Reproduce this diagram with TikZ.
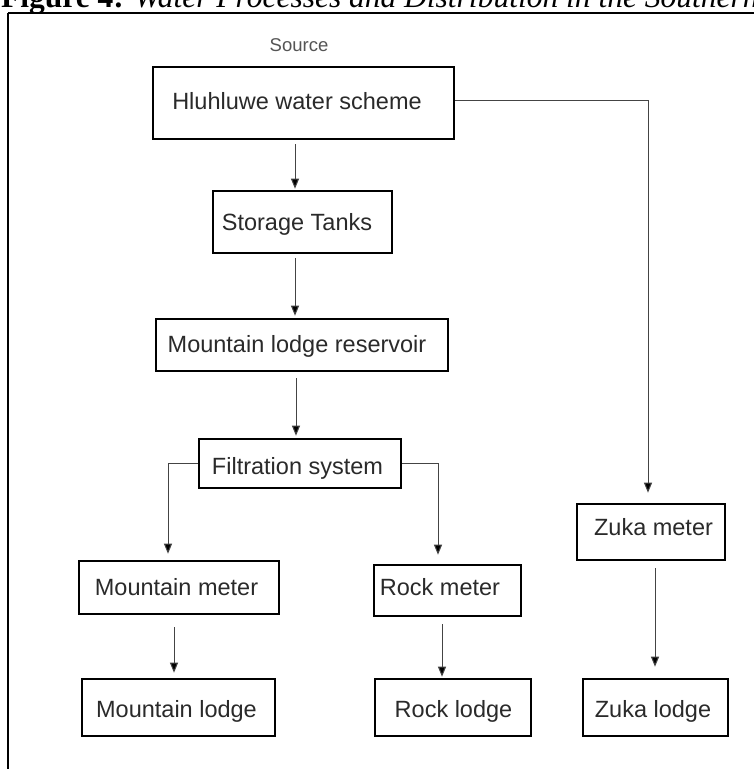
\documentclass[tikz,border=0pt]{standalone}
\usepackage{fontspec}
\setmainfont{Liberation Serif}
\newfontfamily\boxfont{Liberation Sans}
\usetikzlibrary{arrows.meta}
\definecolor{txtgray}{HTML}{2A2A2A}
\definecolor{linegray}{HTML}{444444}
\definecolor{srcgray}{HTML}{555555}
\tikzset{
  box/.style={draw=black, line width=2.6pt, fill=white, inner sep=0pt},
  txt/.style={font=\boxfont\fontsize{23.5}{26}\selectfont, text=txtgray, anchor=base, inner sep=0pt},
  arr/.style={draw=linegray, line width=1pt, -{Triangle[length=10pt,width=8pt,fill=black]}},
  frameline/.style={line width=2.2pt, draw=black}
}
\begin{document}
\begin{tikzpicture}[x=1pt,y=-1pt]
\useasboundingbox (0,0) rectangle (753,769);
\fill[white] (0,0) rectangle (753,769);
% caption (cut off at top)
\node[anchor=base west, inner sep=0pt, font=\fontsize{31.5}{33}\selectfont] (cap) at (1,7)
  {\textbf{Figure 4:} \textit{Water Processes and Distribution in the Southern}};
% frame
\draw[frameline] (8,13) -- (760,13);
\draw[frameline] (8,13) -- (8,780);
% source label
\node[anchor=base, inner sep=0pt, font=\boxfont\fontsize{18.5}{20}\selectfont, text=srcgray] (src) at (299,51) {Source};
% boxes
\node[box, minimum width=301pt, minimum height=72pt] (hl) at (303.5,103) {};
\node[txt] (hlT) at (297,109) {Hluhluwe water scheme};
\node[box, minimum width=179pt, minimum height=62pt] (st) at (302.5,222) {};
\node[txt] (stT) at (297,230) {Storage Tanks};
\node[box, minimum width=292pt, minimum height=52pt] (res) at (302,345) {};
\node[txt] (resT) at (297,352) {Mountain lodge reservoir};
\node[box, minimum width=202pt, minimum height=49pt] (filt) at (300,463.5) {};
\node[txt] (filtT) at (297.5,474) {Filtration system};
\node[box, minimum width=200pt, minimum height=53pt] (mm) at (179,587.5) {};
\node[txt] (mmT) at (176.5,595) {Mountain meter};
\node[box, minimum width=147pt, minimum height=51pt] (rm) at (447.5,590.5) {};
\node[txt] (rmT) at (440,595) {Rock meter};
\node[box, minimum width=148pt, minimum height=56pt] (zm) at (651,532) {};
\node[txt] (zmT) at (653.5,535) {Zuka meter};
\node[box, minimum width=193pt, minimum height=57pt] (ml) at (178.5,707.5) {};
\node[txt] (mlT) at (176.5,717) {Mountain lodge};
\node[box, minimum width=156pt, minimum height=57pt] (rl) at (453,707.5) {};
\node[txt] (rlT) at (453.5,717) {Rock lodge};
\node[box, minimum width=145pt, minimum height=57pt] (zl) at (655.5,707.5) {};
\node[txt] (zlT) at (653,717) {Zuka lodge};
% connectors
\draw[arr, shorten <=4pt, shorten >=1pt] ([xshift=-8.5pt]hl.south) -- ([xshift=-7.5pt]st.north);
\draw[arr, shorten <=4pt, shorten >=2pt] ([xshift=-7.5pt]st.south) -- ([xshift=-7pt]res.north);
\draw[arr, shorten <=6pt, shorten >=2pt] ([xshift=-6pt]res.south) -- ([xshift=-4pt]filt.north);
\draw[arr, shorten >=6pt] (filt.west) -| ([xshift=-11pt]mm.north);
\draw[arr, shorten >=9pt] (filt.east) -| ([xshift=-9.5pt]rm.north);
\draw[arr, shorten >=10pt] ([yshift=3pt]hl.east) -| ([xshift=-3pt]zm.north);
\draw[arr, shorten <=12pt, shorten >=5pt] ([xshift=-5pt]mm.south) -- ([xshift=-4.5pt]ml.north);
\draw[arr, shorten <=7pt, shorten >=1pt] ([xshift=-5.5pt]rm.south) -- ([xshift=-11pt]rl.north);
\draw[arr, shorten <=7pt, shorten >=11pt] ([xshift=4pt]zm.south) -- ([xshift=-0.5pt]zl.north);
\end{tikzpicture}
\end{document}
